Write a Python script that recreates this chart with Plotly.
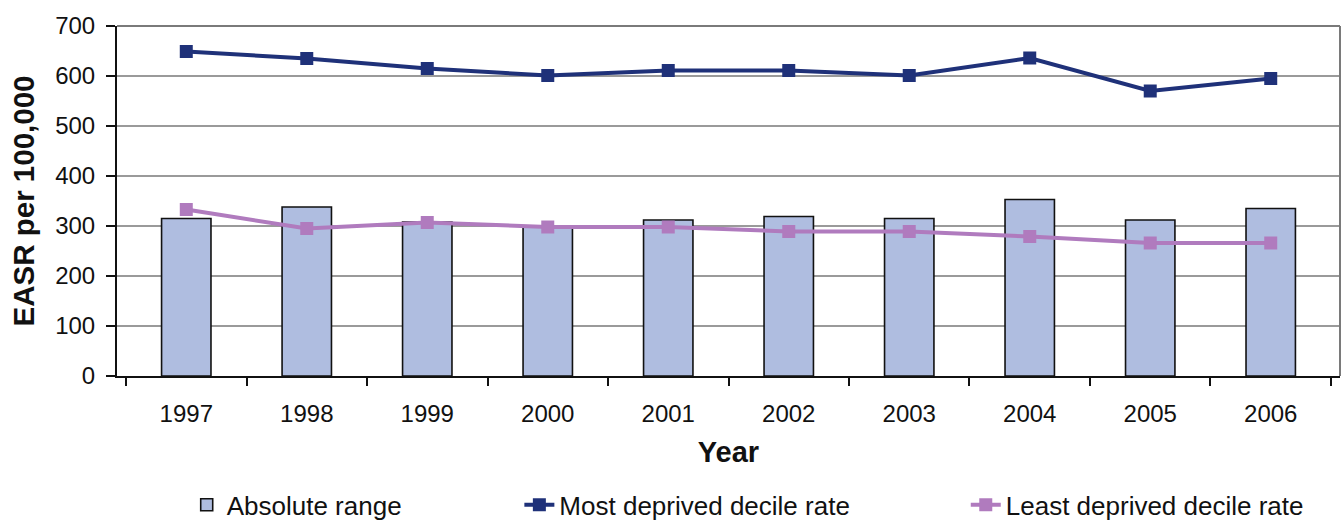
import plotly.graph_objects as go

# EASR per 100,000 by year
years = ["1997", "1998", "1999", "2000", "2001", "2002", "2003", "2004", "2005", "2006"]
absolute_range = [315, 338, 308, 300, 312, 319, 315, 353, 312, 335]
most_deprived = [649, 635, 615, 601, 611, 611, 601, 636, 570, 595]
least_deprived = [333, 295, 307, 298, 298, 289, 289, 279, 266, 266]

FONT = "Liberation Sans, Arial, sans-serif"
BAR_FILL = "#AFBDE0"
NAVY = "#1F3179"
PINK = "#B07BBE"

fig = go.Figure()
fig.add_trace(go.Bar(
    x=years, y=absolute_range, name="Absolute range",
    width=0.41, legend="legend",
    marker=dict(color=BAR_FILL, line=dict(color="#111111", width=1.6)),
))
fig.add_trace(go.Scatter(
    x=years, y=most_deprived, name="Most deprived decile rate",
    mode="lines+markers", legend="legend2",
    line=dict(color=NAVY, width=4),
    marker=dict(symbol="square", size=13, color=NAVY),
))
fig.add_trace(go.Scatter(
    x=years, y=least_deprived, name="Least deprived decile rate",
    mode="lines+markers", legend="legend3",
    line=dict(color=PINK, width=4),
    marker=dict(symbol="square", size=13, color=PINK),
))

legend_common = dict(
    orientation="h", xanchor="left", y=-0.368, yanchor="middle",
    font=dict(size=26), bgcolor="rgba(0,0,0,0)",
)

fig.update_layout(
    width=1343, height=521,
    margin=dict(l=117, r=3, t=26, b=145, autoexpand=False),
    paper_bgcolor="white", plot_bgcolor="white",
    font=dict(family=FONT, size=24, color="#111111"),
    showlegend=True,
    legend=dict(x=0.057, **legend_common),
    legend2=dict(x=0.329, **legend_common),
    legend3=dict(x=0.694, **legend_common),
    bargap=0.59,
)

fig.update_xaxes(
    type="category", automargin=False,
    showline=True, linecolor="#111111", linewidth=2,
    ticks="outside", tickson="boundaries", ticklen=8, tickwidth=1.5, tickcolor="#111111",
    ticklabelstandoff=15,
    showgrid=False,
    title=dict(text="<b>Year</b>", font=dict(size=29), standoff=16),
)
fig.update_yaxes(
    range=[0, 700], dtick=100, automargin=False,
    showline=True, linecolor="#111111", linewidth=2,
    ticks="outside", ticklen=9, tickwidth=1.5, tickcolor="#111111",
    ticklabelstandoff=6,
    showgrid=True, gridcolor="#9A9A9A", gridwidth=1.5,
    zeroline=False,
    title=dict(text="<b>EASR per 100,000</b>", font=dict(size=29.5), standoff=12),
)

# grey frame on the top and right of the plot area
fig.add_shape(type="line", xref="x domain", yref="y domain",
              x0=0, x1=1, y0=1, y1=1, line=dict(color="#7A7A7A", width=2))
fig.add_shape(type="line", xref="x domain", yref="y domain",
              x0=1, x1=1, y0=0, y1=1, line=dict(color="#7A7A7A", width=2))

fig.write_html("out.html")
